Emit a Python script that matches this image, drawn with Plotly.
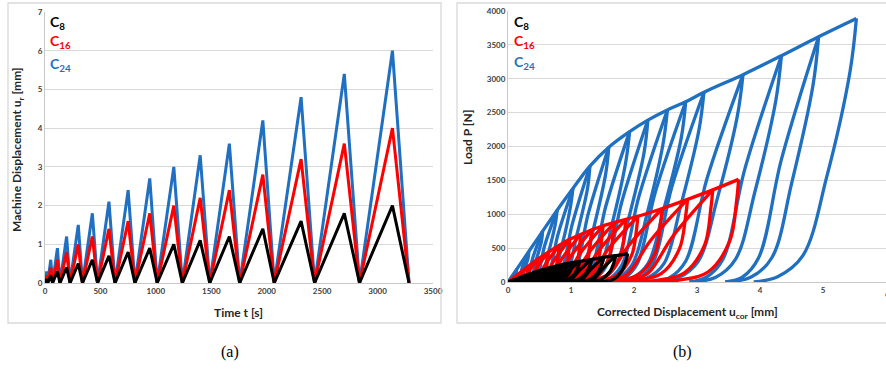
import plotly.graph_objects as go

W, H = 886, 371

# ---------------- (a) machine displacement history ----------------
peak_t = [15, 52, 112, 195, 300, 427, 577, 750, 945, 1162, 1400, 1663, 1965, 2310, 2700, 3134]
trough_t = [24, 68, 135, 226, 338, 474, 632, 811, 1012, 1239, 1486, 1756, 2068, 2432, 2837, 3284]
amp_c8 = [0.1, 0.2, 0.3, 0.4, 0.5, 0.6, 0.7, 0.8, 0.9, 1.0, 1.1, 1.2, 1.4, 1.6, 1.8, 2.0]
amp_c16 = [0.2, 0.4, 0.6, 0.8, 1.0, 1.2, 1.4, 1.6, 1.8, 2.0, 2.2, 2.4, 2.8, 3.2, 3.6, 4.0]
amp_c24 = [0.3, 0.6, 0.9, 1.2, 1.5, 1.8, 2.1, 2.4, 2.7, 3.0, 3.3, 3.6, 4.2, 4.8, 5.4, 6.0]

# ---------------- (b) load - corrected displacement loops ----------------
# peak points, residual displacement after unloading, points along the
# unloading branch (at 80 %, 40 %, 10 %, 2 % of peak load) and along the
# reloading branch of the next cycle (at 50 %, 10 %, 2 % of peak load)
c24_px = [0.14, 0.33, 0.55, 0.78, 1.03, 1.30, 1.60, 1.93, 2.22, 2.53, 2.82, 3.11, 3.73, 4.34, 4.93, 5.53]
c24_pp = [190, 450, 750, 1060, 1380, 1710, 1990, 2220, 2390, 2540, 2660, 2800, 3060, 3340, 3620, 3890]
c24_res = [0.03, 0.09, 0.18, 0.29, 0.43, 0.59, 0.78, 0.99, 1.19, 1.41, 1.62, 1.84, 2.30, 2.88, 3.45, 3.90]
c24_u80 = [0.13, 0.32, 0.53, 0.75, 0.99, 1.26, 1.55, 1.87, 2.16, 2.46, 2.75, 3.03, 3.64, 4.25, 4.84, 5.43]
c24_u40 = [0.11, 0.26, 0.44, 0.64, 0.86, 1.09, 1.36, 1.66, 1.92, 2.21, 2.47, 2.74, 3.32, 3.92, 4.50, 5.06]
c24_u10 = [0.085, 0.21, 0.37, 0.54, 0.73, 0.95, 1.19, 1.46, 1.71, 1.97, 2.22, 2.48, 3.02, 3.61, 4.19, 4.68]
c24_u02 = [0.06, 0.16, 0.28, 0.43, 0.60, 0.79, 1.01, 1.25, 1.48, 1.72, 1.96, 2.20, 2.70, 3.29, 3.86, 4.28]
c24_r50 = [0.10, 0.23, 0.40, 0.58, 0.79, 1.02, 1.27, 1.55, 1.81, 2.08, 2.34, 2.60, 3.16, 3.76, 4.34]
c24_r10 = [0.07, 0.18, 0.31, 0.47, 0.65, 0.85, 1.08, 1.33, 1.56, 1.81, 2.05, 2.30, 2.82, 3.41, 3.98]
c24_r02 = [0.05, 0.13, 0.25, 0.38, 0.54, 0.72, 0.93, 1.16, 1.38, 1.61, 1.84, 2.07, 2.56, 3.14, 3.72]

c16_px = [0.15, 0.31, 0.48, 0.64, 0.81, 0.98, 1.15, 1.33, 1.51, 1.69, 1.87, 2.06, 2.45, 2.85, 3.25, 3.66]
c16_pp = [110, 225, 340, 440, 540, 630, 700, 770, 830, 880, 925, 970, 1085, 1220, 1360, 1515]
c16_res = [0.03, 0.08, 0.15, 0.22, 0.30, 0.38, 0.46, 0.55, 0.64, 0.74, 0.84, 0.95, 1.18, 1.45, 1.75, 2.05]
c16_u80 = [0.15, 0.31, 0.47, 0.63, 0.80, 0.97, 1.14, 1.31, 1.49, 1.67, 1.85, 2.04, 2.42, 2.82, 3.22, 3.63]
c16_u40 = [0.14, 0.29, 0.45, 0.60, 0.76, 0.93, 1.09, 1.26, 1.43, 1.60, 1.78, 1.96, 2.34, 2.72, 3.12, 3.52]
c16_u10 = [0.11, 0.24, 0.38, 0.51, 0.66, 0.80, 0.94, 1.10, 1.25, 1.41, 1.56, 1.73, 2.07, 2.43, 2.80, 3.18]
c16_u02 = [0.08, 0.18, 0.29, 0.40, 0.51, 0.63, 0.75, 0.88, 1.01, 1.14, 1.27, 1.42, 1.71, 2.04, 2.38, 2.73]
c16_r50 = [0.10, 0.21, 0.34, 0.46, 0.60, 0.73, 0.86, 1.00, 1.14, 1.29, 1.44, 1.59, 1.92, 2.26, 2.62]
c16_r10 = [0.07, 0.15, 0.26, 0.35, 0.46, 0.57, 0.68, 0.80, 0.92, 1.04, 1.17, 1.31, 1.59, 1.90, 2.23]
c16_r02 = [0.05, 0.11, 0.20, 0.28, 0.38, 0.47, 0.56, 0.67, 0.77, 0.88, 0.99, 1.12, 1.37, 1.66, 1.98]

c8_px = [0.09, 0.19, 0.28, 0.38, 0.47, 0.57, 0.66, 0.76, 0.85, 0.95, 1.04, 1.14, 1.33, 1.52, 1.71, 1.90]
c8_pp = [30, 65, 100, 130, 160, 185, 210, 235, 255, 275, 290, 305, 335, 365, 390, 420]
c8_res = [0.02, 0.06, 0.10, 0.15, 0.20, 0.26, 0.32, 0.38, 0.45, 0.52, 0.60, 0.68, 0.85, 1.02, 1.20, 1.40]
c8_u80 = [0.09, 0.19, 0.27, 0.37, 0.46, 0.56, 0.65, 0.75, 0.83, 0.93, 1.02, 1.12, 1.31, 1.50, 1.69, 1.88]
c8_u40 = [0.08, 0.17, 0.25, 0.34, 0.42, 0.51, 0.60, 0.69, 0.78, 0.87, 0.96, 1.06, 1.24, 1.43, 1.62, 1.81]
c8_u10 = [0.06, 0.13, 0.20, 0.28, 0.35, 0.43, 0.51, 0.59, 0.67, 0.76, 0.84, 0.93, 1.11, 1.30, 1.48, 1.68]
c8_u02 = [0.04, 0.10, 0.15, 0.22, 0.28, 0.35, 0.42, 0.49, 0.57, 0.65, 0.73, 0.82, 0.99, 1.17, 1.35, 1.55]
c8_r50 = [0.06, 0.14, 0.20, 0.28, 0.36, 0.44, 0.52, 0.60, 0.68, 0.77, 0.86, 0.95, 1.13, 1.31, 1.50]
c8_r10 = [0.04, 0.10, 0.16, 0.22, 0.29, 0.36, 0.43, 0.50, 0.58, 0.66, 0.74, 0.83, 1.00, 1.18, 1.36]
c8_r02 = [0.03, 0.08, 0.13, 0.18, 0.24, 0.31, 0.37, 0.44, 0.51, 0.58, 0.67, 0.75, 0.92, 1.10, 1.28]

BLACK, RED, BLUE = "#000000", "#ff0000", "#1f70c1"
FONT = "Lato"


def history(amps):
    t, u = [0], [0]
    for tp, tt, a in zip(peak_t, trough_t, amps):
        t += [tp, tt]
        u += [a, 0]
    return t, u


def loops(px, pp, res, u80, u40, u10, u02, r50, r10, r02):
    xs, ys = [0.0] + list(px), [0.0] + list(pp)  # envelope through the peaks
    for k in range(len(px)):
        p = pp[k]
        # unloading branch
        xs += [None, px[k], u80[k], u40[k], u10[k], u02[k], res[k]]
        ys += [None, p, 0.8 * p, 0.4 * p, 0.1 * p, 0.02 * p, 0]
        # reloading branch of the following cycle
        if k < len(r50):
            xs += [None, res[k], r02[k], r10[k], r50[k], px[k]]
            ys += [None, 0, 0.02 * p, 0.1 * p, 0.5 * p, p]
    return xs, ys


fig = go.Figure()

for amps, col in [(amp_c24, BLUE), (amp_c16, RED), (amp_c8, BLACK)]:
    t, u = history(amps)
    fig.add_trace(go.Scatter(x=t, y=u, mode="lines", line=dict(color=col, width=3),
                             xaxis="x", yaxis="y", showlegend=False, hoverinfo="skip"))

series_b = [
    (c24_px, c24_pp, c24_res, c24_u80, c24_u40, c24_u10, c24_u02, c24_r50, c24_r10, c24_r02, BLUE),
    (c16_px, c16_pp, c16_res, c16_u80, c16_u40, c16_u10, c16_u02, c16_r50, c16_r10, c16_r02, RED),
    (c8_px, c8_pp, c8_res, c8_u80, c8_u40, c8_u10, c8_u02, c8_r50, c8_r10, c8_r02, BLACK),
]
for *d, col in series_b:
    x, y = loops(*d)
    fig.add_trace(go.Scatter(x=x, y=y, mode="lines", connectgaps=False,
                             line=dict(color=col, width=3.3, shape="spline", smoothing=1.0),
                             xaxis="x2", yaxis="y2", showlegend=False, hoverinfo="skip"))

tickfont = dict(family=FONT, size=8, color="#404040", weight="bold")
xbase = dict(showgrid=False, zeroline=False, showline=True, linecolor="#c8c8c8",
             ticks="", tickfont=tickfont, automargin=False)
ybase = dict(showgrid=True, gridcolor="#d9d9d9", gridwidth=1.3, zeroline=False,
             showline=True, linecolor="#c8c8c8", linewidth=1, ticks="",
             tickfont=tickfont, automargin=False)

fig.update_layout(
    width=W, height=H, margin=dict(l=0, r=0, t=0, b=0, autoexpand=False),
    paper_bgcolor="white", plot_bgcolor="white",
    xaxis=dict(domain=[45 / W, 433 / W], range=[0, 3500], dtick=500, anchor="y", **xbase),
    yaxis=dict(domain=[1 - 283 / H, 1 - 12 / H], range=[0, 7], dtick=1, anchor="x", **ybase),
    xaxis2=dict(domain=[508 / W, 1.0], range=[0, 6], dtick=1, anchor="y2", **xbase),
    yaxis2=dict(domain=[1 - 282 / H, 1 - 11 / H], range=[0, 4000], dtick=500, anchor="x2", **ybase),
)


def px_x(v):
    return v / W


def px_y(v):
    return 1 - v / H


# panel frames
for x0, x1 in [(8, 441), (457, 892)]:
    fig.add_shape(type="rect", xref="paper", yref="paper",
                  x0=px_x(x0), x1=px_x(x1), y0=px_y(323), y1=px_y(3),
                  line=dict(color="#d9d9d9", width=1.3), fillcolor="rgba(0,0,0,0)")

ann = []
title_font = dict(family=FONT, size=12, color="#262626", weight="bold")
ann.append(dict(text="Time t [s]", x=px_x(238), y=px_y(312), font=title_font))
ann.append(dict(text="Machine Displacement u<sub>r</sub> [mm]", x=px_x(18), y=px_y(150),
                textangle=-90, font=title_font))
ann.append(dict(text="Corrected Displacement u<sub>cor</sub> [mm]", x=px_x(687), y=px_y(312),
                font=title_font))
ann.append(dict(text="Load P [N]", x=px_x(467), y=px_y(138), textangle=-90, font=title_font))

# last x tick label of panel (b) sits on the page edge
ann.append(dict(text="6", x=px_x(887), y=px_y(294), font=tickfont))

for x0, ys in [(48, (23, 42, 64)), (512, (22, 41, 63))]:
    for lab, col, yy in zip(["C<sub>8</sub>", "C<sub>16</sub>", "C<sub>24</sub>"],
                            [BLACK, RED, BLUE], ys):
        ann.append(dict(text=lab, x=px_x(x0), y=px_y(yy), xanchor="left",
                        font=dict(family=FONT, size=14, color=col, weight="bold")))

cap_font = dict(family="Liberation Serif", size=16, color="#000000")
ann.append(dict(text="(a)", x=px_x(230), y=px_y(352), font=cap_font))
ann.append(dict(text="(b)", x=px_x(682), y=px_y(352), font=cap_font))

for a in ann:
    a.setdefault("xanchor", "center")
    a.update(xref="paper", yref="paper", yanchor="middle", showarrow=False)
    fig.add_annotation(**a)

fig.write_html("out.html")
